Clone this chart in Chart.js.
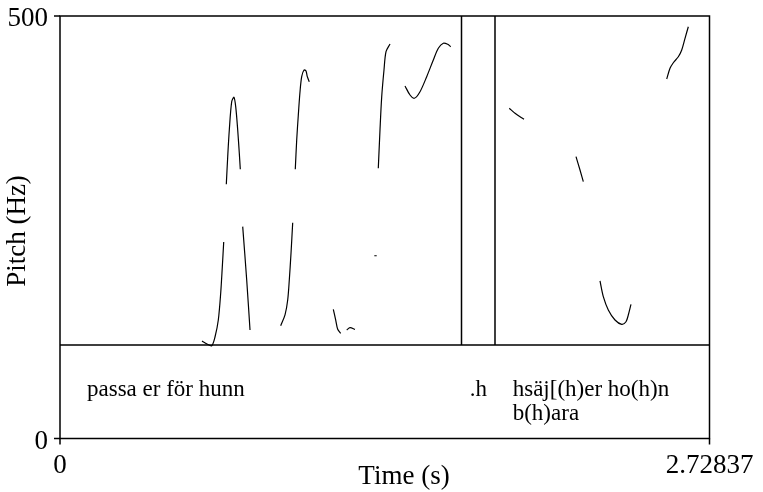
<!DOCTYPE html>
<html>
<head>
<meta charset="utf-8">
<script src="https://cdn.jsdelivr.net/npm/chart.js@4"></script>
<style>
  html, body { margin: 0; padding: 0; background: #fff; }
  #wrap { width: 763px; height: 492px; }
</style>
</head>
<body>
<div id="wrap"><canvas id="pitchChart"></canvas></div>
<script>
// pitch track (s, Hz); null separates voiced stretches
const pitchTimes = [
  0.5965, 0.6175, 0.6373, 0.6511, 0.6650, 0.6751, 0.6818, 0.6877, null,
  0.6986, 0.7045, 0.7112, 0.7213, 0.7309, 0.7381, 0.7465, 0.7532, 0.7574, null,
  0.7675, 0.7843, 0.7982, null,
  0.9271, 0.9452, 0.9565, 0.9632, 0.9704, 0.9775, null,
  0.9884, 0.9943, 1.0011, 1.0082, 1.0153, 1.0250, 1.0334, 1.0389, 1.0473, null,
  1.1481, 1.1582, 1.1666, 1.1792, null,
  1.2044, 1.2182, 1.2392, null,
  1.3203, 1.3304, null,
  1.3371, 1.3442, 1.3514, 1.3610, 1.3695, 1.3863, null,
  1.4493, 1.4703, 1.4884, 1.5123, 1.5404, 1.5682, 1.5892, 1.6101, 1.6286, 1.6413, null,
  1.8874, 1.9114, 1.9492, null,
  2.1676, 2.1844, 2.1983, null,
  2.2684, 2.2823, 2.3033, 2.3314, 2.3596, 2.3776, 2.3873, 2.3986, null,
  2.5486, 2.5625, 2.5764, 2.5974, 2.6117, 2.6255, 2.6394
];
const pitchHz = [
  115.4, 111.8, 109.8, 120.1, 140.2, 172.2, 203.0, 232.5, null,
  300.8, 333.5, 365.1, 398.6, 403.8, 392.7, 365.1, 337.5, 318.6, null,
  250.7, 187.6, 128.4, null,
  133.5, 146.2, 163.9, 187.6, 219.2, 255.4, null,
  318.6, 353.3, 382.8, 410.4, 428.2, 436.1, 434.9, 428.2, 422.2, null,
  152.9, 140.2, 129.2, 124.5, null,
  128.4, 131.1, 129.2, null,
  216.3, 216.3, null,
  319.8, 365.1, 404.5, 436.1, 457.8, 466.9, null,
  417.2, 406.5, 402.6, 410.4, 428.2, 447.9, 461.8, 467.7, 466.5, 463.7, null,
  390.8, 384.9, 377.8, null,
  333.5, 317.8, 303.9, null,
  186.4, 167.8, 152.1, 140.2, 135.1, 138.2, 146.2, 158.8, null,
  425.4, 438.1, 444.7, 451.8, 459.8, 473.6, 487.3
];

const tMax = 2.72837;
const fMax = 500;
const tierTopHz = 110.7;            // upper edge of the text tier
const boundaryTimes = [1.6866, 1.8273];
const tierLabels = [['passa er för hunn'], ['.h'], ['hsäj[(h)er ho(h)n', 'b(h)ara']];
const tierLabelTimes = [0.1134, 1.7570, 1.9017];
const tierLabelAlign = ['left', 'center', 'left'];

const points = pitchTimes.map((t, i) => ({ x: t, y: pitchHz[i] }));

const praatFrame = {
  id: 'praatFrame',
  afterDatasetsDraw(chart) {
    const { ctx, chartArea: a, scales: { x, y } } = chart;
    const serif = '"Liberation Serif", "DejaVu Serif", serif';
    ctx.save();
    ctx.strokeStyle = '#000';
    ctx.lineWidth = 1.5;
    ctx.strokeRect(a.left, a.top, a.right - a.left, a.bottom - a.top);
    const yTier = y.getPixelForValue(tierTopHz);
    ctx.beginPath();
    ctx.moveTo(a.left, yTier); ctx.lineTo(a.right, yTier);
    boundaryTimes.forEach(t => {
      const px = x.getPixelForValue(t);
      ctx.moveTo(px, a.top); ctx.lineTo(px, yTier);
    });
    // ticks
    [0, fMax].forEach(v => {
      const py = y.getPixelForValue(v);
      ctx.moveTo(a.left - 6, py); ctx.lineTo(a.left, py);
    });
    [0, tMax].forEach(v => {
      const px = x.getPixelForValue(v);
      ctx.moveTo(px, a.bottom); ctx.lineTo(px, a.bottom + 6);
    });
    ctx.stroke();

    ctx.fillStyle = '#000';
    ctx.font = '27px ' + serif;
    ctx.textBaseline = 'middle';
    ctx.textAlign = 'right';
    ctx.fillText(String(fMax), a.left - 12, y.getPixelForValue(fMax) + 3);
    ctx.fillText('0', a.left - 12, y.getPixelForValue(0) + 3);
    ctx.textAlign = 'center';
    ctx.fillText('0', x.getPixelForValue(0), a.bottom + 27);
    ctx.fillText(String(tMax), x.getPixelForValue(tMax), a.bottom + 27);
    ctx.fillText('Time (s)', 404, a.bottom + 38);
    ctx.save();
    ctx.translate(18, 231);
    ctx.rotate(-Math.PI / 2);
    ctx.fillText('Pitch (Hz)', 0, 0);
    ctx.restore();

    ctx.font = '23px ' + serif;
    const yMid = (yTier + a.bottom) / 2;
    tierLabels.forEach((lines, i) => {
      ctx.textAlign = tierLabelAlign[i];
      const px = x.getPixelForValue(tierLabelTimes[i]);
      lines.forEach((s, j) => {
        ctx.fillText(s, px, yMid - 2 + j * 24);
      });
    });
    ctx.restore();
  }
};

new Chart(document.getElementById('pitchChart'), {
  type: 'scatter',
  data: {
    datasets: [{
      data: points,
      showLine: true,
      spanGaps: false,
      borderColor: '#000',
      borderWidth: 1.2,
      pointRadius: 0,
      tension: 0.3
    }]
  },
  options: {
    responsive: true,
    maintainAspectRatio: false,
    animation: false,
    layout: { padding: { left: 60, top: 16, right: 53.5, bottom: 53.5 } },
    plugins: { legend: { display: false }, tooltip: { enabled: false } },
    scales: {
      x: { type: 'linear', min: 0, max: tMax, display: false },
      y: { type: 'linear', min: 0, max: fMax, display: false }
    }
  },
  plugins: [praatFrame]
});
</script>
</body>
</html>
